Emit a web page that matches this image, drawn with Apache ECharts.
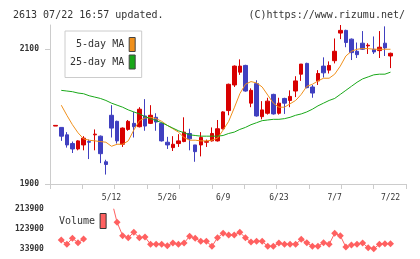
<!DOCTYPE html>
<html>
<head>
<meta charset="utf-8">
<script src="https://cdn.jsdelivr.net/npm/echarts@6/dist/echarts.min.js"></script>
<style>
  html, body { margin: 0; padding: 0; background: #fff; }
  #myChart { width: 420px; height: 259px; }
</style>
</head>
<body>
<div id="myChart"></div>
<script>
// 2613 daily candles, 2025/04/23 - 07/22
var dates = ['4/23','4/24','4/25','4/28','4/30','5/1','5/2','5/7','5/8','5/9',
  '5/12','5/13','5/14','5/15','5/16','5/19','5/20','5/21','5/22','5/23',
  '5/26','5/27','5/28','5/29','5/30','6/2','6/3','6/4','6/5','6/6',
  '6/9','6/10','6/11','6/12','6/13','6/16','6/17','6/18','6/19','6/20',
  '6/23','6/24','6/25','6/26','6/27','6/30','7/1','7/2','7/3','7/4',
  '7/7','7/8','7/9','7/10','7/11','7/14','7/15','7/16','7/17','7/18','7/22'];

var open  = [1986,1984,1973,1960,1952,1958,1963,1973,1971,1933,
  2002,1993,1959,1981,1990,1985,2001,1990,1999,1990,
  1962,1954,1960,1963,1975,1958,1958,1962,1964,1964,
  1982,2009,2047,2066,2076,2020,2049,2000,2005,2033,
  2005,2027,2024,2038,2063,2079,2044,2053,2075,2069,
  2083,2124,2128,2115,2097,2109,2105,2100,2098,2109,2090];
var close = [1987,1971,1958,1952,1964,1968,1962,1974,1945,1929,
  1983,1964,1983,1993,1985,2011,1986,2002,1992,1964,
  1958,1959,1964,1977,1967,1948,1969,1963,1975,1982,
  2007,2048,2075,2075,2038,2039,2001,2010,2023,2004,
  2020,2020,2030,2053,2078,2043,2035,2064,2065,2076,
  2097,2128,2110,2095,2092,2100,2106,2096,2103,2102,2094];
var low   = [1986,1964,1954,1946,1950,1950,1937,1950,1931,1914,
  1969,1960,1955,1979,1969,1984,1979,1989,1979,1963,
  1952,1949,1955,1962,1950,1933,1941,1955,1963,1963,
  1981,2002,2044,2062,2037,2014,2000,1996,2003,2003,
  2003,2004,2014,2029,2053,2042,2028,2047,2058,2064,
  2079,2115,2103,2084,2087,2099,2093,2093,2087,2090,2072];
var high  = [1987,1984,1977,1963,1965,1971,1966,1981,1972,1936,
  2017,1994,1984,1995,2007,2014,2026,2017,2005,1991,
  1970,1971,1974,1999,1982,1958,1977,1966,1984,1995,
  2008,2049,2076,2085,2077,2042,2054,2023,2028,2034,
  2028,2028,2039,2060,2078,2080,2047,2069,2088,2082,
  2116,2136,2129,2116,2110,2127,2109,2119,2127,2134,2095];

var ma5 = [null,2017,2002,1988,1976,1967,1965,1964,1963,1962,
  1956,1959,1959,1964,1980,1994,1998,1999,1997,1993,
  1987,1982,1977,1969,1965,1965,1964,1964,1965,1968,
  1980,1993,2013,2034,2048,2052,2050,2044,2032,2020,
  2014,2014,2019,2024,2033,2045,2048,2053,2057,2057,
  2063,2075,2090,2097,2100,2101,2101,2100,2100,2100,2100];
var ma25 = [null,2039,2038,2037,2035,2034,2031,2029,2027,2024,
  2020,2017,2014,2010,2007,2004,2000,1997,1994,1991,
  1987,1983,1979,1976,1973,1972,1971,1971,1971,1971,
  1972,1975,1977,1981,1984,1988,1991,1994,1995,1996,
  1996,1997,1999,2002,2004,2007,2011,2016,2020,2024,
  2027,2033,2039,2045,2051,2056,2059,2062,2063,2063,2066];

var volume = [null,74700,55000,82400,62500,79200,null,null,null,null,
  256000,155000,94200,85100,109600,85100,88300,55200,55200,55200,
  48900,61100,55200,61100,91500,82400,68800,68800,46100,85100,
  105100,97400,97400,109600,85100,65600,68800,68800,46100,46100,
  61100,55200,55200,55200,77900,62500,46100,46100,62500,55200,
  105100,94200,43000,52000,55200,61100,39800,35000,55200,58000,58000];

var dateLabels = ['5/12','5/26','6/9','6/23','7/7','7/22'];
var priceTicks = [1900, 2100];
var volumeTicks = [33900, 123900, 213900];

var MONO = 'DejaVu Sans Mono';
var UP = '#d80000', DOWN = '#4040c0';

var candles = [];
for (var i = 0; i < dates.length; i++) {
  candles.push([open[i], close[i], low[i], high[i]]);
}

function plain(v) { return String(v); }

var myChart = echarts.init(document.getElementById('myChart'));
var option = {
  animation: false,
  title: [
    { text: '2613 07/22 16:57 updated.', left: 8, top: 5,
      textStyle: { fontFamily: MONO, fontSize: 10, fontWeight: 'normal', color: '#333' } },
    { text: '(C)https://www.rizumu.net/', right: 10, top: 5,
      textStyle: { fontFamily: MONO, fontSize: 10, fontWeight: 'normal', color: '#333' } }
  ],
  legend: [
    {
      left: 65, top: 31, orient: 'vertical', align: 'right',
      padding: [6, 6, 8, 5], itemGap: 2.5, itemWidth: 6, itemHeight: 14,
      borderColor: '#ccc', borderWidth: 1, backgroundColor: '#fff',
      selectedMode: false, icon: 'rect',
      formatter: function (name) { return name.length < 9 ? ' ' + name : name; },
      textStyle: { fontFamily: MONO, fontSize: 10, color: '#333' },
      data: [
        { name: '5-day MA', itemStyle: { color: '#f0901c', borderColor: '#444', borderWidth: 1 } },
        { name: '25-day MA', itemStyle: { color: '#19a819', borderColor: '#444', borderWidth: 1 } }
      ]
    },
    {
      left: 59, top: 213, orient: 'vertical', align: 'right', padding: 0,
      itemWidth: 6, itemHeight: 15, selectedMode: false, icon: 'rect',
      textStyle: { fontFamily: MONO, fontSize: 10, color: '#333' },
      data: [{ name: 'Volume', itemStyle: { color: '#ff6060', borderColor: '#333', borderWidth: 1 } }]
    }
  ],
  grid: [
    { left: 52.9, width: 340.4, top: 25, height: 159 },
    { left: 50, width: 356, top: 25, height: 159 },
    { left: 52.9, width: 340.4, top: 209.3, height: 39.7 }
  ],
  xAxis: [
    {
      gridIndex: 0, type: 'category', data: dates, boundaryGap: true,
      axisLine: { show: false }, axisTick: { show: false }, splitLine: { show: false },
      axisLabel: {
        interval: function (index, value) { return dateLabels.indexOf(value) >= 0; },
        margin: 10, fontFamily: MONO, fontSize: 8, color: '#333'
      }
    },
    {
      gridIndex: 1, type: 'value', min: 0, max: 11, interval: 1,
      axisLine: { show: true, lineStyle: { color: '#ccc' } },
      axisTick: { show: true, length: 5, lineStyle: { color: '#ccc' } },
      axisLabel: { show: false }, splitLine: { show: false }
    },
    { gridIndex: 2, type: 'category', data: dates, boundaryGap: true, show: false }
  ],
  yAxis: [
    { gridIndex: 0, type: 'value', min: 1900, max: 2136, show: false },
    {
      gridIndex: 1, type: 'value', min: 1900, max: 2136,
      axisLine: { show: true, lineStyle: { color: '#ccc' } },
      axisTick: { show: true, customValues: priceTicks, length: 5, lineStyle: { color: '#ccc' } },
      axisLabel: { customValues: priceTicks, formatter: plain, margin: 11, fontFamily: MONO, fontSize: 8, fontWeight: 'bold', color: '#333' },
      splitLine: { show: false }
    },
    {
      gridIndex: 2, type: 'value', min: 33900, max: 213900,
      axisLine: { show: false }, axisTick: { show: false }, splitLine: { show: false },
      axisLabel: { customValues: volumeTicks, formatter: plain, margin: 9, fontFamily: MONO, fontSize: 8, fontWeight: 'bold', color: '#333' }
    }
  ],
  series: [
    {
      name: 'price', type: 'candlestick', xAxisIndex: 0, yAxisIndex: 0,
      barWidth: 4, data: candles,
      itemStyle: { color: UP, color0: DOWN, borderColor: UP, borderColor0: DOWN, borderWidth: 1 }
    },
    {
      name: '5-day MA', type: 'line', xAxisIndex: 0, yAxisIndex: 0, data: ma5,
      symbol: 'none', color: '#f0901c', lineStyle: { width: 1, color: '#f0901c' }
    },
    {
      name: '25-day MA', type: 'line', xAxisIndex: 0, yAxisIndex: 0, data: ma25,
      symbol: 'none', color: '#19a819', lineStyle: { width: 1, color: '#19a819' }
    },
    {
      name: 'Volume', type: 'line', xAxisIndex: 2, yAxisIndex: 2, data: volume,
      clip: true, showAllSymbol: true, symbol: 'diamond', symbolSize: 7, color: '#ff6060',
      itemStyle: { color: '#ff6060' }, lineStyle: { width: 1, color: '#ff6060' }
    }
  ]
};
myChart.setOption(option);
</script>
</body>
</html>
